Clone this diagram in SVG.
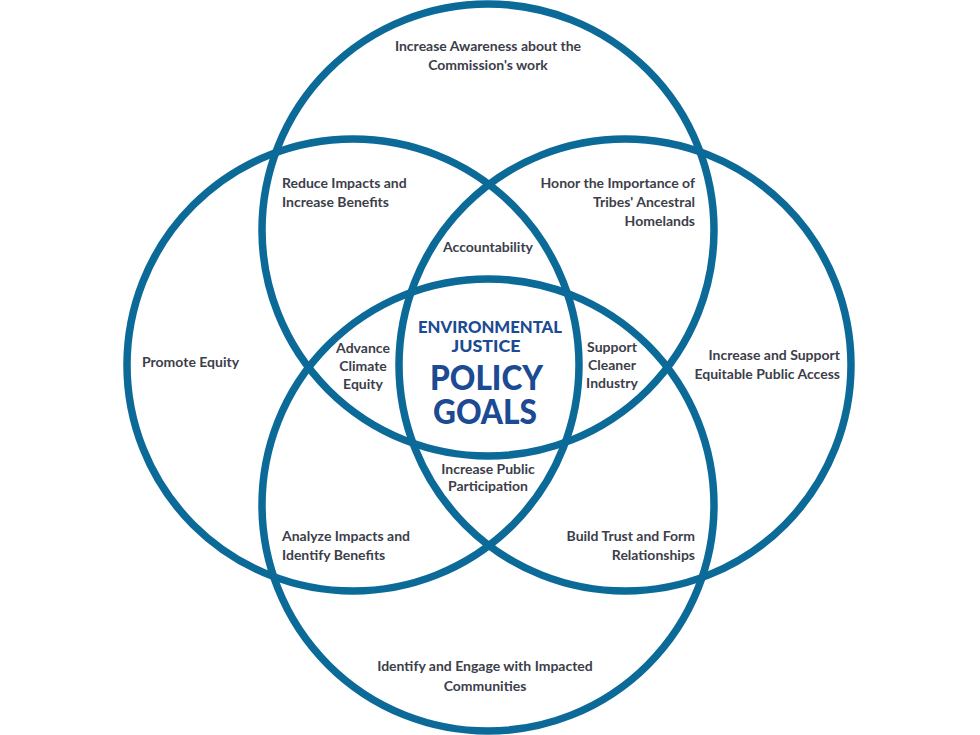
<svg xmlns="http://www.w3.org/2000/svg" width="980" height="735" viewBox="0 0 980 735">
<style>
.c{fill:none;stroke:#0b6a98;stroke-width:7.5}
.t{font-family:Lato,"Liberation Sans",sans-serif;font-weight:bold;font-size:14px;fill:#3c3e4a}
.m{text-anchor:middle}
.e{text-anchor:end}
.b{font-family:Lato,"Liberation Sans",sans-serif;font-weight:900;fill:#1c4a93;text-anchor:middle}
</style>
<rect width="980" height="735" fill="#ffffff"/>
<g id="connectors"></g>
<g id="top"><circle class="c" cx="488" cy="230" r="226"/>
<text class="t m" x="488" y="51">Increase Awareness about the</text>
<text class="t m" x="488" y="70">Commission's work</text></g>
<g id="left"><circle class="c" cx="353" cy="365" r="226"/>
<text class="t" x="142" y="367">Promote Equity</text></g>
<g id="right"><circle class="c" cx="625" cy="365" r="226"/>
<text class="t e" x="840" y="360">Increase and Support</text>
<text class="t e" x="840" y="379">Equitable Public Access</text></g>
<g id="bottom"><circle class="c" cx="488" cy="505" r="226"/>
<text class="t m" x="485" y="671">Identify and Engage with Impacted</text>
<text class="t m" x="485" y="691">Communities</text></g>
<g id="top-left"><text class="t" x="282" y="188">Reduce Impacts and</text>
<text class="t" x="282" y="207">Increase Benefits</text></g>
<g id="top-right"><text class="t e" x="695" y="188">Honor the Importance of</text>
<text class="t e" x="695" y="207">Tribes' Ancestral</text>
<text class="t e" x="695" y="226">Homelands</text></g>
<g id="accountability"><text class="t m" x="488" y="252">Accountability</text></g>
<g id="advance"><text class="t m" x="363" y="353">Advance</text>
<text class="t m" x="363" y="371">Climate</text>
<text class="t m" x="363" y="389">Equity</text></g>
<g id="support"><text class="t m" x="612" y="352">Support</text>
<text class="t m" x="612" y="370">Cleaner</text>
<text class="t m" x="612" y="388">Industry</text></g>
<g id="participation"><text class="t m" x="488" y="474">Increase Public</text>
<text class="t m" x="488" y="491">Participation</text></g>
<g id="bottom-left"><text class="t" x="282" y="541">Analyze Impacts and</text>
<text class="t" x="282" y="560">Identify Benefits</text></g>
<g id="bottom-right"><text class="t e" x="695" y="541">Build Trust and Form</text>
<text class="t e" x="695" y="560">Relationships</text></g>
<g id="center"><text class="b" x="490" y="333" font-size="17" textLength="144" lengthAdjust="spacingAndGlyphs">ENVIRONMENTAL</text>
<text class="b" x="486" y="352" font-size="17" textLength="69" lengthAdjust="spacingAndGlyphs">JUSTICE</text>
<text class="b" x="486.5" y="390" font-size="34" textLength="113" lengthAdjust="spacingAndGlyphs">POLICY</text>
<text class="b" x="485" y="424" font-size="34" textLength="104" lengthAdjust="spacingAndGlyphs">GOALS</text></g>
</svg>
